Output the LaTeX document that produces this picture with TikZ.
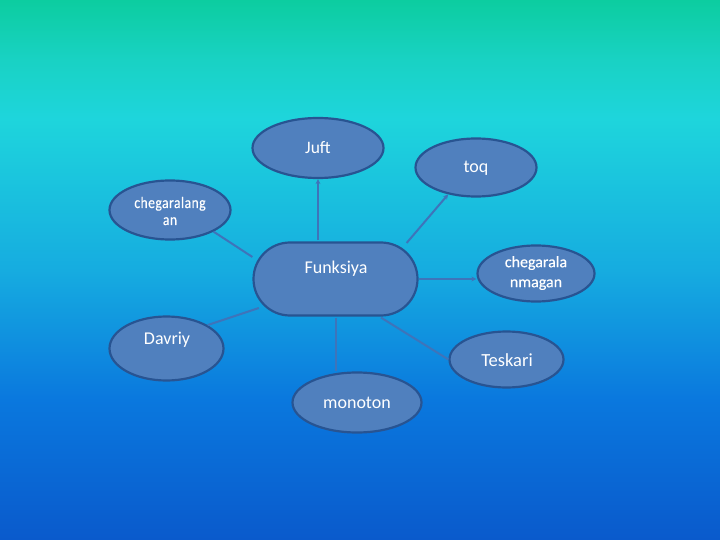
\documentclass[tikz,border=0pt]{standalone}
\usepackage{fontspec}
\setmainfont{Carlito}
\usetikzlibrary{shapes.geometric,shapes.misc,arrows.meta}
\definecolor{bgA}{RGB}{10,90,204}
\definecolor{bgB}{RGB}{10,120,222}
\definecolor{bgC}{RGB}{22,172,224}
\definecolor{bgD}{RGB}{30,213,220}
\definecolor{bgE}{RGB}{25,210,196}
\definecolor{bgF}{RGB}{12,205,160}
\definecolor{nodefill}{RGB}{80,128,190}
\definecolor{nodeedge}{RGB}{40,84,146}
\definecolor{linkc}{RGB}{62,116,186}
\pgfdeclareverticalshading{bgshade}{100bp}{color(0bp)=(bgA); color(25bp)=(bgA); color(38bp)=(bgB); color(50bp)=(bgC); color(64bp)=(bgD); color(69.4bp)=(bgE); color(75bp)=(bgF); color(100bp)=(bgF)}
\tikzset{
  bubble/.style={ellipse, draw=nodeedge, line width=2.2pt, fill=nodefill, text=white, inner sep=0pt, align=center},
  hub/.style={rounded rectangle, draw=nodeedge, line width=2.2pt, fill=nodefill, text=white, inner sep=0pt, align=center},
  label/.style={text=white, align=center, font=\fontsize{18}{20}\selectfont},
  link/.style={draw=linkc, line width=2pt},
  linkarrow/.style={link, -{Stealth[length=5pt,width=5pt]}},
}
\begin{document}
\begin{tikzpicture}[x=1pt,y=-1pt]
\useasboundingbox (0,0) rectangle (720,540);
\fill[shading=bgshade] (0,0) rectangle (720,540);
\node[hub, minimum width=164pt, minimum height=73pt] (funk) at (335.5,279) {};
\node[label] (funkt) at (336,269) {Funksiya};
\node[bubble, minimum width=131pt, minimum height=60pt] (juft) at (318,148) {};
\node[label, font=\fontsize{17.5}{20}\selectfont] (juftt) at (318,148) {Juft};
\node[bubble, minimum width=121pt, minimum height=58pt] (toq) at (476,167.5) {};
\node[label] (toqt) at (476,168) {toq};
\node[bubble, minimum width=121pt, minimum height=59pt] (cheg) at (170,210) {};
\node[label, font=\fontsize{16}{17}\selectfont\addfontfeatures{FakeStretch=0.85,FakeBold=0.3,LetterSpace=3}] (chegt) at (170,211) {chegaralang\\an};
\node[bubble, minimum width=117pt, minimum height=56pt] (chegm) at (536,273.5) {};
\node[label, font=\fontsize{16}{20}\selectfont\addfontfeatures{FakeBold=0.3}] (chegmt) at (536,273) {chegarala\\nmagan};
\node[bubble, minimum width=114pt, minimum height=64pt] (davr) at (166.5,348.5) {};
\node[label] (davrt) at (167,340) {Davriy};
\node[bubble, minimum width=114pt, minimum height=56pt] (tesk) at (506.5,359.5) {};
\node[label, font=\fontsize{18.5}{20}\selectfont] (teskt) at (507,360) {Teskari};
\node[bubble, minimum width=129pt, minimum height=60pt] (mono) at (357,402.5) {};
\node[label] (monot) at (357,403) {monoton};
\draw[linkarrow] (funk.north -| juft.south) ++(0,-1) coordinate (a1) (a1) -- (juft.south);
\draw[linkarrow] (funk.east) ++(-12,-36) coordinate (a2) (a2) -- (toq.224);
\draw[linkarrow] (funk.east) -- (chegm.west |- funk.east);
\draw[link] (funk.west) ++(0,-22) coordinate (a3) (a3) -- (cheg.south east);
\draw[link] (funk.west) ++(6.5,29) coordinate (a4) (a4) -- (davr.north east);
\draw[link] (funk.south) ++(0,1) coordinate (a5) (a5) -- (mono.north -| a5);
\draw[link] (funk.south east) ++(0,1) coordinate (a6) (a6) -- (tesk.west);
\end{tikzpicture}
\end{document}
